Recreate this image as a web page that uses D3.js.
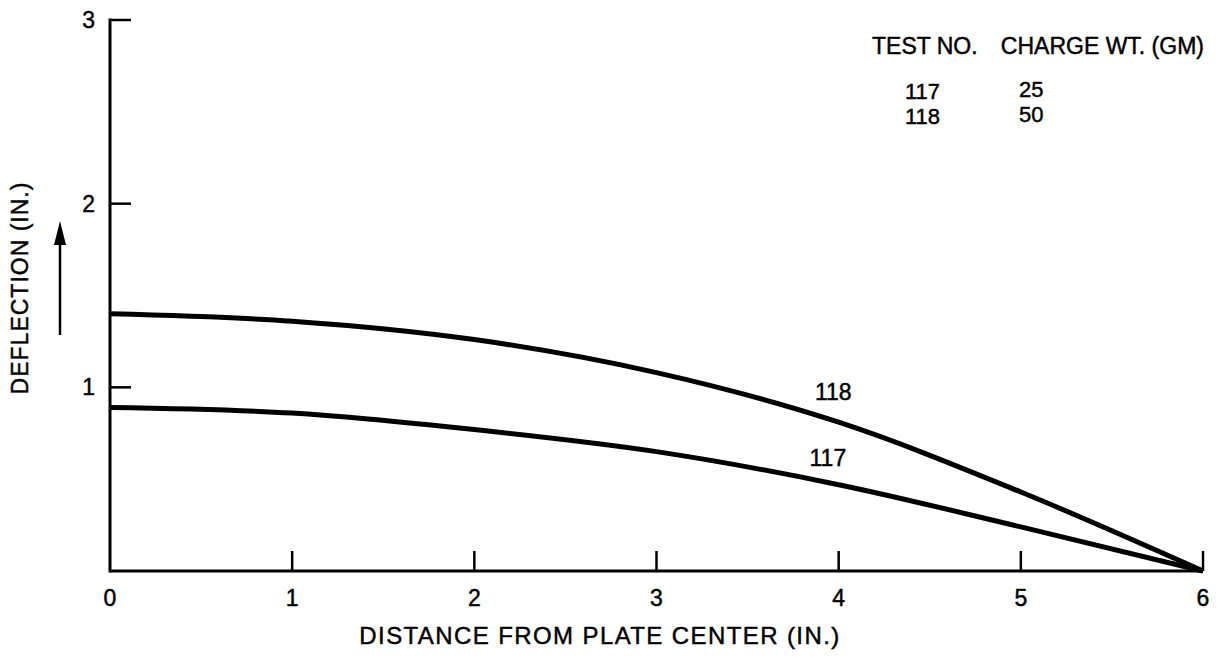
<!DOCTYPE html>
<html>
<head>
<meta charset="utf-8">
<script src="https://cdn.jsdelivr.net/npm/d3@7"></script>
<style>
  html, body { margin: 0; padding: 0; background: #fff; }
  svg { display: block; }
  text { font-family: "Liberation Sans", Arial, Helvetica, sans-serif; fill: #000; stroke: #000; stroke-width: 0.45; }
</style>
</head>
<body>
<svg id="chart" width="1226" height="659"></svg>
<script>
// ---- data ----
const distance = [0, 1, 2, 3, 4, 5, 6];
const test118 = [1.40, 1.36, 1.26, 1.08, 0.81, 0.43, 0];
const test117 = [0.89, 0.86, 0.77, 0.65, 0.47, 0.24, 0];
const xTicks = [0, 1, 2, 3, 4, 5, 6];
const yTicks = [1, 2, 3];
const legendHeader = ["TEST NO.", "CHARGE WT. (GM)"];
const legendTests = ["117", "118"];
const legendCharges = ["25", "50"];
const curveLabels = [
  { text: "118", x: 3.87, y: 0.93 },
  { text: "117", x: 3.84, y: 0.57 }
];
const xTitle = "DISTANCE FROM PLATE CENTER (IN.)";
const yTitle = "DEFLECTION (IN.)";

// ---- layout ----
const svg = d3.select("#chart");
const x = d3.scaleLinear().domain([0, 6]).range([110, 1203]);
const y = d3.scaleLinear().domain([0, 3]).range([571, 20]);

// axes lines
const g = svg.append("g");
g.append("line")
  .attr("x1", x(0)).attr("x2", x(6))
  .attr("y1", y(0)).attr("y2", y(0))
  .attr("stroke", "#000").attr("stroke-width", 3);
g.append("line")
  .attr("x1", x(0)).attr("x2", x(0))
  .attr("y1", y(0) + 1.5).attr("y2", y(3) - 1.5)
  .attr("stroke", "#000").attr("stroke-width", 3);

// x ticks (pointing up)
g.selectAll(".xt").data(xTicks.filter(d => d > 0)).enter().append("line")
  .attr("x1", d => x(d)).attr("x2", d => x(d))
  .attr("y1", y(0)).attr("y2", y(0) - 20)
  .attr("stroke", "#000").attr("stroke-width", 2.5);
g.selectAll(".xl").data(xTicks).enter().append("text")
  .attr("x", d => x(d)).attr("y", y(0) + 35)
  .attr("text-anchor", "middle")
  .attr("font-size", 23)
  .text(d => d);

// y ticks (pointing right)
g.selectAll(".yt").data(yTicks).enter().append("line")
  .attr("x1", x(0)).attr("x2", x(0) + 21)
  .attr("y1", d => y(d)).attr("y2", d => y(d))
  .attr("stroke", "#000").attr("stroke-width", 2.5);
g.selectAll(".yl").data(yTicks).enter().append("text")
  .attr("x", x(0) - 15).attr("y", d => y(d) + 8)
  .attr("text-anchor", "end")
  .attr("font-size", 23)
  .text(d => d);

// titles
svg.append("text")
  .attr("x", 600).attr("y", 644)
  .attr("text-anchor", "middle")
  .attr("font-size", 24)
  .attr("letter-spacing", 1.4)
  .text(xTitle);
svg.append("text")
  .attr("transform", "translate(28,288) rotate(-90)")
  .attr("text-anchor", "middle")
  .attr("font-size", 23)
  .attr("letter-spacing", 1)
  .text(yTitle);

// arrow
svg.append("line")
  .attr("x1", 60).attr("x2", 60)
  .attr("y1", 335).attr("y2", 238)
  .attr("stroke", "#000").attr("stroke-width", 2.5);
svg.append("path")
  .attr("d", "M60,221 L54,245 L66,245 Z")
  .attr("fill", "#000");

// curves
const line = d3.line()
  .x((d, i) => x(distance[i]))
  .y(d => y(d))
  .curve(d3.curveMonotoneX);
[test118, test117].forEach(s => {
  svg.append("path")
    .attr("d", line(s))
    .attr("fill", "none")
    .attr("stroke", "#000")
    .attr("stroke-width", 5)
    .attr("stroke-linejoin", "round");
});

// curve labels
svg.selectAll(".cl").data(curveLabels).enter().append("text")
  .attr("x", d => x(d.x)).attr("y", d => y(d.y))
  .attr("font-size", 23)
  .text(d => d.text);

// legend
svg.append("text").attr("x", 872).attr("y", 54).attr("font-size", 23).text(legendHeader[0]);
svg.append("text").attr("x", 1204).attr("y", 54).attr("text-anchor", "end").attr("font-size", 23).text(legendHeader[1]);
svg.selectAll(".lt").data(legendTests).enter().append("text")
  .attr("x", 905).attr("y", (d, i) => 99 + i * 25)
  .attr("font-size", 22).text(d => d);
svg.selectAll(".lc").data(legendCharges).enter().append("text")
  .attr("x", 1019).attr("y", (d, i) => 97 + i * 25)
  .attr("font-size", 22).text(d => d);
</script>
</body>
</html>
